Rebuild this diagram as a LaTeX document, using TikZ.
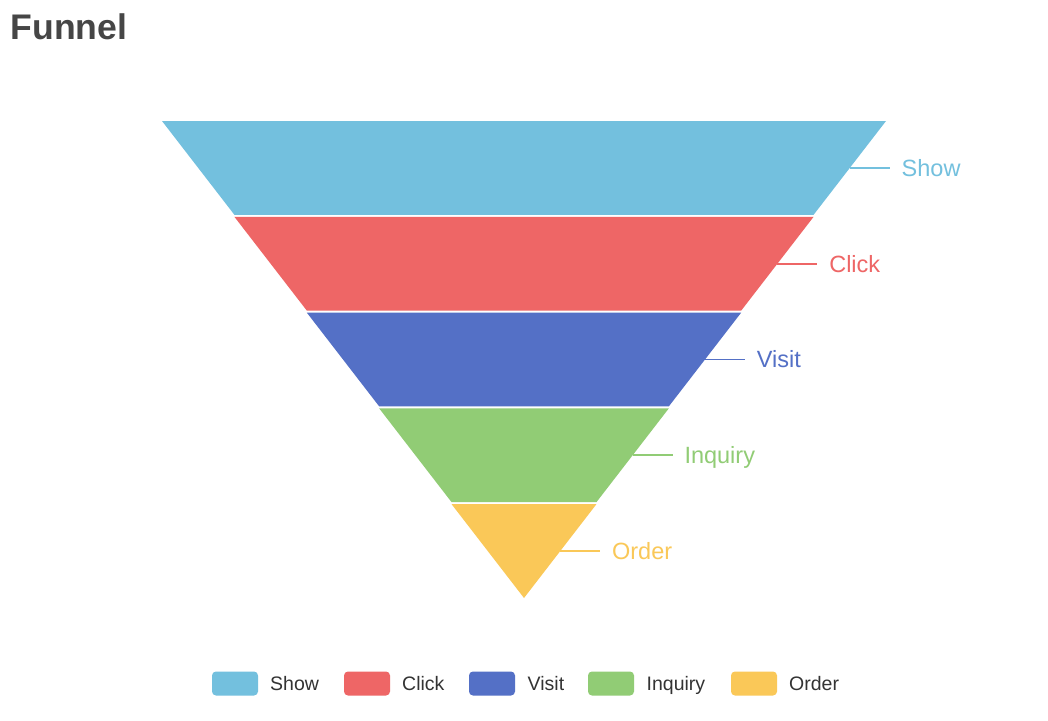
\documentclass[tikz,border=0pt]{standalone}
\usepackage{fontspec}
\setmainfont{Liberation Sans}
\definecolor{cShow}{HTML}{73C0DE}
\definecolor{cClick}{HTML}{EE6666}
\definecolor{cVisit}{HTML}{5470C6}
\definecolor{cInquiry}{HTML}{91CC75}
\definecolor{cOrder}{HTML}{FAC858}
\definecolor{titlegray}{HTML}{464646}
\definecolor{legendtext}{HTML}{333333}
\begin{document}
\begin{tikzpicture}[x=1pt,y=-1pt,
  piece/.style={fill=#1,draw=none},
  lblline/.style={draw=#1,line width=1.8pt},
  lbltext/.style={text=#1,anchor=base west,inner sep=0pt,font=\fontsize{23.5}{28}\selectfont},
  legbox/.style={fill=#1,draw=none,rounded corners=4pt,minimum width=46pt,minimum height=24pt,inner sep=0pt},
  legtext/.style={text=legendtext,anchor=base west,inner sep=0pt,font=\fontsize{19.5}{23}\selectfont}]
\useasboundingbox (0,0) rectangle (1048,720);
\fill[white] (0,0) rectangle (1048,720);
% title
\node[anchor=base west,inner sep=0pt,text=titlegray,font=\bfseries\fontsize{35.6}{40}\selectfont] (title) at (10.5,39.5) {Funnel};
% funnel pieces
\path[piece=cShow] (162,121) -- (886,121) -- (813.6,214.8) -- (234.4,214.8) -- cycle;
\path[piece=cClick] (234.4,216.8) -- (813.6,216.8) -- (741.2,310.6) -- (306.8,310.6) -- cycle;
\path[piece=cVisit] (306.8,312.6) -- (741.2,312.6) -- (668.8,406.4) -- (379.2,406.4) -- cycle;
\path[piece=cInquiry] (379.2,408.4) -- (668.8,408.4) -- (596.4,502.2) -- (451.6,502.2) -- cycle;
\path[piece=cOrder] (451.6,504.2) -- (596.4,504.2) -- (524,598) -- cycle;
% label anchors
\coordinate (pShow) at (849.8,167.9);
\coordinate (pClick) at (777.4,263.7);
\coordinate (pVisit) at (705,359.5);
\coordinate (pInquiry) at (632.6,455.3);
\coordinate (pOrder) at (560.2,551.1);
\coordinate (eShow) at (889.8,167.9);
\coordinate (eClick) at (817.4,263.7);
\coordinate (eVisit) at (745,359.5);
\coordinate (eInquiry) at (672.6,455.3);
\coordinate (eOrder) at (600.2,551.1);
\draw[lblline=cShow] (pShow) -- (eShow);
\draw[lblline=cClick] (pClick) -- (eClick);
\draw[lblline=cVisit] (pVisit) -- (eVisit);
\draw[lblline=cInquiry] (pInquiry) -- (eInquiry);
\draw[lblline=cOrder] (pOrder) -- (eOrder);
\node[lbltext=cShow] (tShow) at (901.5,176.3) {Show};
\node[lbltext=cClick] (tClick) at (829.1,272.1) {Click};
\node[lbltext=cVisit] (tVisit) at (756.7,367.9) {Visit};
\node[lbltext=cInquiry] (tInquiry) at (684.3,463.7) {Inquiry};
\node[lbltext=cOrder] (tOrder) at (611.9,559.5) {Order};
% legend
\node[legbox=cShow] (lbShow) at (235,683.5) {};
\node[legtext] (ltShow) at (270,690.5) {Show};
\node[legbox=cClick] (lbClick) at (367,683.5) {};
\node[legtext] (ltClick) at (402,690.5) {Click};
\node[legbox=cVisit] (lbVisit) at (492,683.5) {};
\node[legtext] (ltVisit) at (527.5,690.5) {Visit};
\node[legbox=cInquiry] (lbInquiry) at (611,683.5) {};
\node[legtext] (ltInquiry) at (646.5,690.5) {Inquiry};
\node[legbox=cOrder] (lbOrder) at (754,683.5) {};
\node[legtext] (ltOrder) at (789,690.5) {Order};
\end{tikzpicture}
\end{document}
